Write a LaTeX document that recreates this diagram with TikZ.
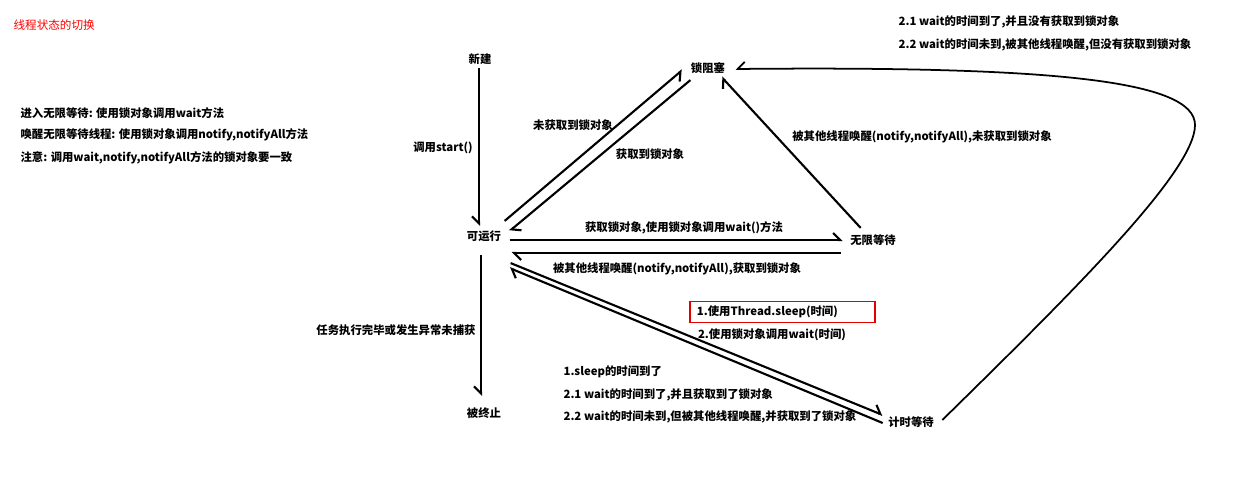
\documentclass[tikz,border=0pt]{standalone}
\usepackage{fontspec}
\setmainfont{Noto Sans CJK SC}
\usepackage{xcolor}
\usetikzlibrary{arrows.meta}

\begin{document}
\begin{tikzpicture}[x=0.03cm, y=-0.03cm,
        every node/.style={font=\bfseries\fontsize{9.7}{12}\selectfont, inner sep=2pt},
        flow/.style={line width=1.8pt, -{Straight Barb[harpoon, length=6pt, width=12pt]}},
        flowsw/.style={line width=1.8pt, -{Straight Barb[harpoon, swap, length=6pt, width=12pt]}},
        note/.style={anchor=west},
        redbox/.style={draw=red!90!black, line width=1.6pt, anchor=west, inner xsep=0.21cm, minimum height=0.63cm, text width=5.13cm, align=left}]
    % \draw[style=help lines] (0,0) grid[step=50] (1239,501);
    \useasboundingbox (0,0) rectangle (1239,501);

    \node[note, red, font=\fontsize{9.9}{12}\selectfont] (title) at (11,25) {线程状态的切换};
    \node[note] (enter) at (18,113) {进入无限等待: 使用锁对象调用wait方法};
    \node[note] (wake) at (18,135) {唤醒无限等待线程: 使用锁对象调用notify,notifyAll方法};
    \node[note] (attn) at (18,158) {注意: 调用wait,notify,notifyAll方法的锁对象要一致};

    % states
    \node (xj) at (480,59) {新建};
    \node (zs) at (708,68) {锁阻塞};
    \node (kyx) at (484,236) {可运行};
    \node (wx) at (873,240) {无限等待};
    \node (zz) at (484,413) {被终止};
    \node (js) at (911,422) {计时等待};

    \draw[flowsw] ([shift={(-1,1)}]xj.south) -- ([shift={(-5,-2)}]kyx.north);
    \draw[flowsw] ([shift={(1,-7)}]kyx.north east) -- ([shift={(-6,2)}]zs.west);
    \draw[flow] ([shift={(2,4)}]zs.south west) -- ([shift={(6,-5)}]kyx.east);
    \draw[flow] ([shift={(13,-4)}]wx.north west) -- ([shift={(-6,1)}]zs.south east);
    \draw[flow] ([shift={(6,4)}]kyx.east) -- ([shift={(-5,0)}]wx.west);
    \draw[flow] ([shift={(-7,13)}]wx.west) -- ([shift={(8,17)}]kyx.east);
    \draw[flowsw] ([shift={(-3,11)}]kyx.south) -- ([shift={(-3,-9)}]zz.north);
    \draw[flow] ([shift={(7,19)}]kyx.south east) -- ([shift={(-3,-7)}]js.west);
    \draw[flow] ([shift={(-3,1)}]js.west) -- ([shift={(6,24)}]kyx.south east);
    \draw[flowsw, line width=1.5pt] ([shift={(6,-2)}]js.east) .. controls (1080,285) and (1195,170) .. (1195,125) .. controls (1195,80) and (1050,66) .. ([shift={(8,1)}]zs.east);

    % labels
    \node (start) at (443,148) {调用start()};
    \node (nolock) at (573,125) {未获取到锁对象};
    \node (getlock) at (650,154) {获取到锁对象};
    \node (wakeno) at (922,137) {被其他线程唤醒(notify,notifyAll),未获取到锁对象};
    \node (callwait) at (684,228) {获取锁对象,使用锁对象调用wait()方法};
    \node (wakeget) at (677,269) {被其他线程唤醒(notify,notifyAll),获取到锁对象};
    \node[redbox] (sleep) at (689,312) {1.使用Thread.sleep(时间)};
    \node (waittime) at (772,335) {2.使用锁对象调用wait(时间)};
    \node (finish) at (396,330) {任务执行完毕或发生异常未捕获};
    \node[note] (back1) at (561,372) {1.sleep的时间到了};
    \node[note] (back2) at (561,395) {2.1 wait的时间到了,并且获取到了锁对象};
    \node[note] (back3) at (561,417) {2.2 wait的时间未到,但被其他线程唤醒,并获取到了锁对象};
    \node[note] (up1) at (896,22) {2.1 wait的时间到了,并且没有获取到锁对象};
    \node[note] (up2) at (896,45) {2.2 wait的时间未到,被其他线程唤醒,但没有获取到锁对象};
\end{tikzpicture}
\end{document}
